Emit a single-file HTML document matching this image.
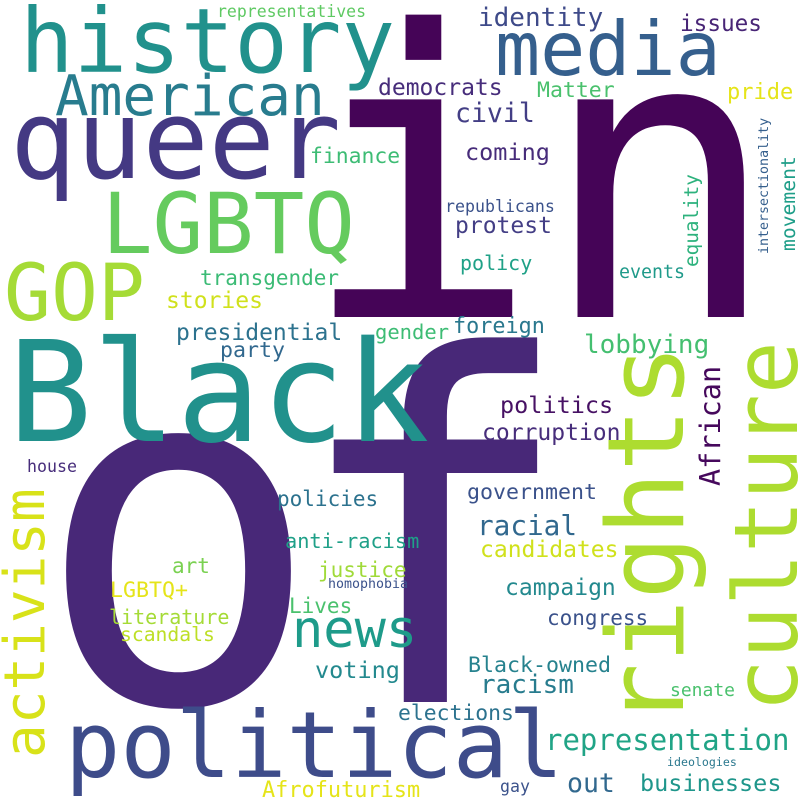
<!DOCTYPE html>
<html>
<head>
<meta charset="utf-8">
<style>
  html, body { margin: 0; padding: 0; background: #ffffff; }
  svg { display: block; }
  text { font-family: "DejaVu Sans Mono", "Liberation Mono", monospace; }
</style>
</head>
<body>
<svg id="cloud" width="800" height="800" viewBox="0 0 800 800" xmlns="http://www.w3.org/2000/svg">
  <rect x="0" y="0" width="800" height="800" fill="#ffffff"></rect>
</svg>
<script>
// Word-cloud data: the words and their font sizes (their relative weights)
const words = ["of","in","Black","queer","history","LGBTQ","political","rights","culture","media","GOP","American","activism","news","representation","racial","civil","racism","identity","lobbying","African","coming","protest","politics","corruption","candidates","campaign","presidential","businesses","democrats","voting","transgender","stories","out","government","Black-owned","foreign","issues","pride","Matter","finance","party","gender","policies","justice","congress","LGBTQ+","art","Lives","elections","Afrofuturism","anti-racism","literature","policy","movement","scandals","equality","events","senate","republicans","representatives","house","gay","intersectionality","homophobia","ideologies"];
const sizes = [480,398,140,110,89,84,92,106,88,75,78,56,56,52,29,27.7,26.5,26,26,26,28.5,23.5,23,23.5,23,23,23,23,23.5,23,23.5,21,23,26.5,21.6,21.6,21.8,22.7,22,21.5,21.4,21.6,20.5,21,21,21,21.6,21,21,21.4,21.9,20.3,20,20,19.7,19.7,19.3,18.3,18,16.6,16.5,16.6,16.6,13.3,13.3,11.6];
// Layout (anchor of each word's baseline start), rotation and letter spacing
const layoutX = [34,300,8,10,20,102,65,683,797,495,4,55,44,292,545,477,455,480,478,584,720,465,455,500,482,480,505,176,640,378,315,200,166,567,467,468,453,680,727,537,310,220,375,277,318,547,110,172,289,398,262,285,109,460,795,120,698,619,670,445,217,27,500,768,328,667];
const layoutY = [702,317,441,178,72,253,777,727,712,75,320,115,758,647,750,535,122,693,26,353,486,160,233,413,440,557,595,340,791,95,678,285,308,792,499,672,333,31,99,97,163,357,339,506,577,625,597,573,613,720,797,548,624,270,251,641,267,278,696,212,17,472,792,254,588,766];
const vertical = [0,0,0,0,0,0,0,1,1,0,0,0,1,0,0,0,0,0,0,0,1,0,0,0,0,0,0,0,0,0,0,0,0,0,0,0,0,0,0,0,0,0,0,0,0,0,0,0,0,0,0,0,0,0,1,0,1,0,0,0,0,0,0,1,0,0];
const spacing = [-35,0];
const colors = ["#482878","#450457","#21918c","#443983","#21918c","#65cb5e","#3e4c8a","#addc30","#addc30","#355f8d","#a5db36","#287c8e","#d8e219","#1e9b8a","#20a486","#31688e","#433e85","#287c8e","#3e4a89","#44bf70","#46085c","#472c7a","#433e85","#471164","#472d7b","#d0e11c","#23898e","#2c728e","#1f968b","#472d7b","#23898e","#3bbb75","#d0e11c","#31688e","#3b528b","#26828e","#2a788e","#482576","#e5e419","#4ac16d","#3dbc74","#31688e","#3dbc74","#2c728e","#a0da39","#3b528b","#e5e419","#7ad151","#4ac16d","#2c728e","#e5e419","#1fa088","#a5db36","#1fa187","#1f9e89","#bddf26","#2db27d","#1f9a8a","#4ac16d","#3b528b","#5ec962","#472d7b","#3b528b","#355f8d","#3b528b","#2a788e"];

const svg = document.getElementById('cloud');
const NS = 'http://www.w3.org/2000/svg';
for (let i = 0; i < words.length; i++) {
  const t = document.createElementNS(NS, 'text');
  
  
  t.setAttribute('x', layoutX[i]);
  t.setAttribute('y', layoutY[i]);
  t.setAttribute('font-size', sizes[i]);
  t.setAttribute('fill', colors[i]);
  if (spacing[i]) {
    t.setAttribute('letter-spacing', spacing[i]);
  }
  if (vertical[i]) {
    t.setAttribute('transform', 'rotate(-90 ' + layoutX[i] + ' ' + layoutY[i] + ')');
  }
  t.textContent = words[i];
  svg.appendChild(t);
}
</script>
</body>
</html>
